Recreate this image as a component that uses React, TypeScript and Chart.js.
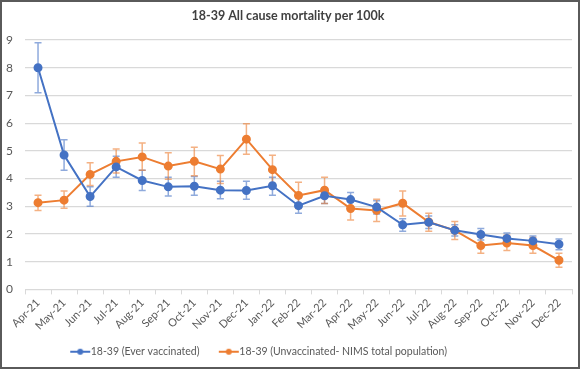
import React, { useEffect, useRef } from "react";
import { Chart, registerables } from "chart.js";

Chart.register(...registerables);

const months = ["Apr-21","May-21","Jun-21","Jul-21","Aug-21","Sep-21","Oct-21","Nov-21","Dec-21","Jan-22","Feb-22","Mar-22","Apr-22","May-22","Jun-22","Jul-22","Aug-22","Sep-22","Oct-22","Nov-22","Dec-22"];

const vaccinated = [8.0,4.85,3.35,4.42,3.93,3.7,3.72,3.58,3.57,3.74,3.02,3.38,3.24,2.97,2.33,2.42,2.13,1.98,1.84,1.75,1.63];
const vaccinatedLow = [7.1,4.3,3.0,4.05,3.57,3.37,3.4,3.27,3.25,3.4,2.75,3.1,2.95,2.72,2.1,2.2,1.93,1.78,1.66,1.56,1.43];
const vaccinatedHigh = [8.9,5.4,3.7,4.8,4.3,4.05,4.07,3.9,3.9,4.05,3.3,3.65,3.5,3.2,2.55,2.65,2.33,2.2,2.03,1.93,1.82];

const unvaccinated = [3.13,3.22,4.15,4.62,4.78,4.45,4.62,4.34,5.42,4.32,3.39,3.58,2.92,2.85,3.11,2.43,2.13,1.58,1.67,1.58,1.05];
const unvaccinatedLow = [2.85,2.93,3.75,4.2,4.3,3.97,4.1,3.82,4.88,3.82,2.92,3.1,2.5,2.45,2.65,2.1,1.8,1.3,1.4,1.3,0.8];
const unvaccinatedHigh = [3.4,3.55,4.57,5.07,5.28,4.93,5.13,4.83,5.98,4.84,3.87,4.05,3.3,3.25,3.55,2.75,2.45,1.9,1.95,1.87,1.3];

const yTicks = [0,1,2,3,4,5,6,7,8,9];

const BLUE = "#4472C4";
const ORANGE = "#ED7D31";
const FONT = "Lato, 'Open Sans', sans-serif";

function legendIcon(color: string) {
  const c = document.createElement("canvas");
  c.width = 22;
  c.height = 10;
  const ctx = c.getContext("2d")!;
  ctx.strokeStyle = color;
  ctx.lineWidth = 2;
  ctx.beginPath();
  ctx.moveTo(1, 5);
  ctx.lineTo(21, 5);
  ctx.stroke();
  ctx.fillStyle = color;
  ctx.beginPath();
  ctx.arc(11, 5, 3, 0, Math.PI * 2);
  ctx.fill();
  return c;
}

const errorBarPlugin = {
  id: "errorBars",
  beforeDatasetsDraw(chart: any) {
    const ctx = chart.ctx;
    const y = chart.scales.y;
    chart.data.datasets.forEach((ds: any, i: number) => {
      const meta = chart.getDatasetMeta(i);
      if (meta.hidden) return;
      ctx.save();
      ctx.strokeStyle = ds.errColor;
      ctx.lineWidth = 1.5;
      meta.data.forEach((pt: any, j: number) => {
        const x = pt.x;
        const yl = y.getPixelForValue(ds.errLow[j]);
        const yh = y.getPixelForValue(ds.errHigh[j]);
        ctx.beginPath();
        ctx.moveTo(x, yl);
        ctx.lineTo(x, yh);
        ctx.moveTo(x - 3.5, yl);
        ctx.lineTo(x + 3.5, yl);
        ctx.moveTo(x - 3.5, yh);
        ctx.lineTo(x + 3.5, yh);
        ctx.stroke();
      });
      ctx.restore();
    });
  },
};

// The reference's legend item gap is wider than its vertical padding:
// shrink the legend's reserved height and nudge it into place.
const legendShiftPlugin = {
  id: "legendShift",
  beforeLayout(chart: any) {
    const lg = chart.legend;
    if (lg && !lg.__patched) {
      const orig = lg.fit.bind(lg);
      lg.fit = function () {
        orig();
        this.height -= 12;
      };
      lg.__patched = true;
    }
  },
  afterLayout(chart: any) {
    const lg = chart.legend;
    if (lg) {
      lg.left -= 27;
      lg.right -= 27;
      lg.top -= 12;
    }
  },
};

export default function App() {
  const ref = useRef<HTMLCanvasElement>(null);
  useEffect(() => {
    document.body.style.margin = "0";
    const icons = [legendIcon(BLUE), legendIcon(ORANGE)];
    const chart = new Chart(ref.current!, {
      type: "line",
      data: {
        labels: months,
        datasets: [
          {
            label: "18-39 (Ever vaccinated)",
            data: vaccinated,
            borderColor: BLUE,
            backgroundColor: BLUE,
            borderWidth: 2,
            pointRadius: 3.5,
            errLow: vaccinatedLow,
            errHigh: vaccinatedHigh,
            errColor: "rgba(68,114,196,0.6)",
          } as any,
          {
            label: "18-39 (Unvaccinated- NIMS total population)",
            data: unvaccinated,
            borderColor: ORANGE,
            backgroundColor: ORANGE,
            borderWidth: 2,
            pointRadius: 3.5,
            errLow: unvaccinatedLow,
            errHigh: unvaccinatedHigh,
            errColor: "rgba(237,125,49,0.6)",
          } as any,
        ],
      },
      options: {
        animation: false,
        responsive: true,
        maintainAspectRatio: false,
        layout: { padding: { left: 0, right: 4, top: 0, bottom: 0 } },
        elements: { point: { pointStyle: "circle" }, line: { tension: 0 } },
        plugins: {
          title: {
            display: true,
            text: "18-39 All cause mortality per 100k",
            color: "#404040",
            font: { family: FONT, size: 12.5, weight: "bold" },
            padding: { top: 6, bottom: 17 },
          },
          legend: {
            position: "bottom",
            labels: {
              color: "#595959",
              font: { family: FONT, size: 10.5 },
              usePointStyle: true,
              boxWidth: 22,
              padding: 24,
              generateLabels: (ch: any) =>
                ch.data.datasets.map((ds: any, i: number) => ({
                  text: ds.label,
                  pointStyle: icons[i],
                  fontColor: "#595959",
                  strokeStyle: ds.borderColor,
                  fillStyle: ds.borderColor,
                  lineWidth: 0,
                  datasetIndex: i,
                  hidden: false,
                })),
            },
          },
          tooltip: { enabled: false },
        },
        scales: {
          x: {
            offset: true,
            grid: {
              offset: true,
              drawOnChartArea: false,
              drawTicks: true,
              tickLength: 5,
              color: "#d9d9d9",
            },
            border: { color: "#d9d9d9", width: 1 },
            ticks: {
              color: "#595959",
              font: { family: FONT, size: 11 },
              minRotation: 45,
              maxRotation: 45,
              autoSkip: false,
              padding: 2,
            },
          },
          y: {
            min: 0,
            max: 9,
            afterBuildTicks: (s: any) => {
              s.ticks = yTicks.map((v) => ({ value: v }));
            },
            afterFit: (s: any) => {
              s.width = 23;
            },
            grid: { color: "#d9d9d9", drawTicks: false, lineWidth: 1.2 },
            border: { display: false },
            ticks: {
              color: "#595959",
              font: { family: FONT, size: 12 },
              padding: 12,
              stepSize: 1,
            },
          },
        },
      },
      plugins: [errorBarPlugin, legendShiftPlugin],
    });
    return () => chart.destroy();
  }, []);
  return (
    <div
      style={{
        width: 580,
        height: 369,
        boxSizing: "border-box",
        border: "2px solid #5a5a5a",
        background: "#fff",
        position: "relative",
      }}
    >
      <canvas ref={ref} />
    </div>
  );
}
